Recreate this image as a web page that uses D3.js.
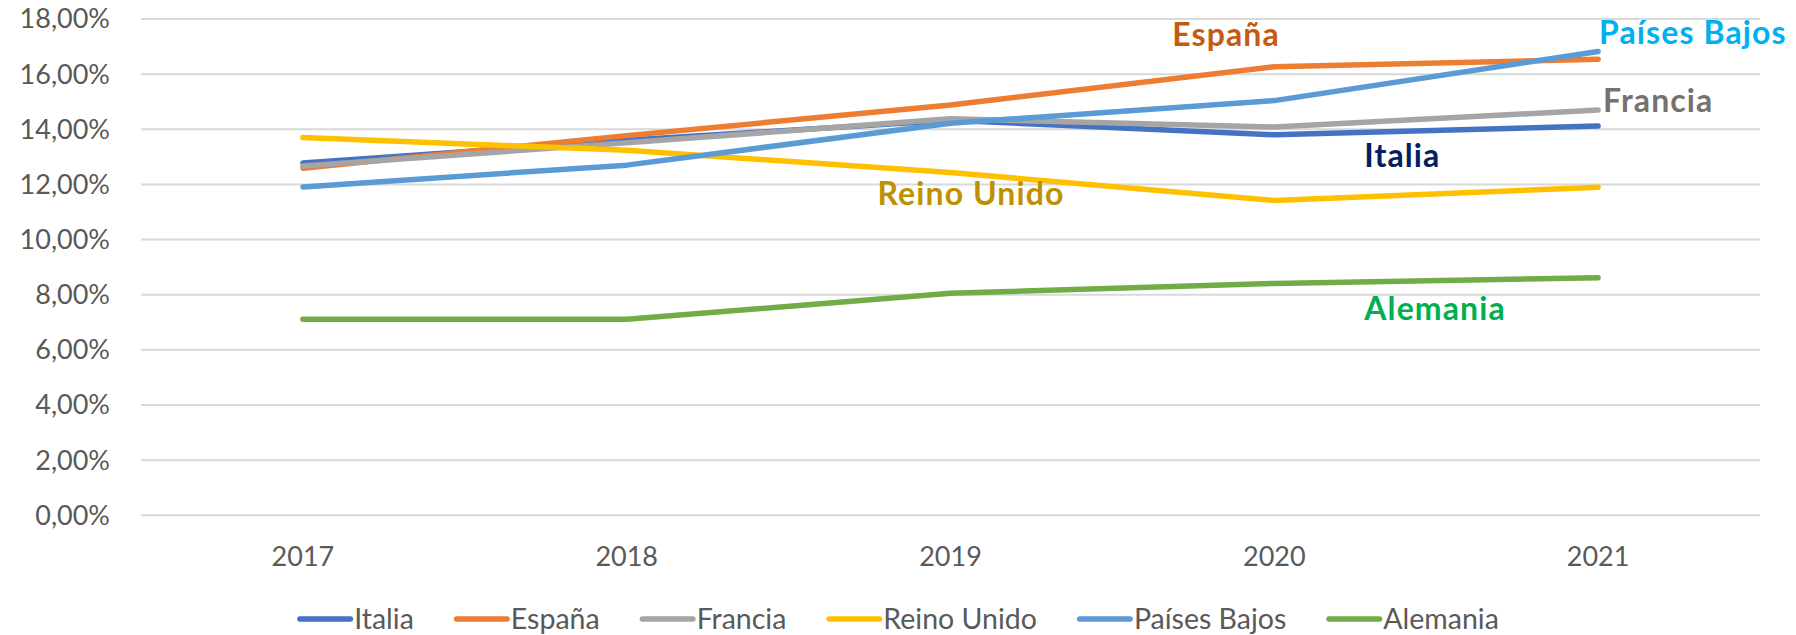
<!DOCTYPE html>
<html><head><meta charset="utf-8">
<script src="https://cdn.jsdelivr.net/npm/d3@7"></script>
<style>html,body{margin:0;padding:0;background:#fff;}svg{display:block;}</style>
</head><body>
<svg id="chart" width="1796" height="635"></svg>
<script>
const years = ["2017","2018","2019","2020","2021"];
const seriesNames = ["Italia","España","Francia","Reino Unido","Países Bajos","Alemania"];
const italia     = [12.78, 13.60, 14.33, 13.80, 14.12];
const espana     = [12.59, 13.77, 14.88, 16.27, 16.54];
const francia    = [12.67, 13.51, 14.38, 14.08, 14.70];
const reinoUnido = [13.70, 13.24, 12.43, 11.42, 11.90];
const paisesBajos= [11.91, 12.70, 14.22, 15.04, 16.82];
const alemania   = [7.11, 7.11, 8.05, 8.41, 8.62];
const yTicks = [0,2,4,6,8,10,12,14,16,18];
const lineColors = ["#4472C4","#ED7D31","#A5A5A5","#FFC000","#5B9BD5","#70AD47"];
// annotation labels: name, anchor year, value (%)
const annNames  = ["España","Países Bajos","Francia","Italia","Reino Unido","Alemania"];
const annYears  = ["2020","2021","2021","2020","2019","2020"];
const annValues = [17.02, 17.11, 14.64, 12.63, 11.25, 7.08];
const annColors = ["#C55A11","#00B0F0","#767171","#002060","#BF9000","#00B050"];
const annDx     = [-102, 1, 5, 90, -73, 90];

const values = [italia, espana, francia, reinoUnido, paisesBajos, alemania];
const svg = d3.select("#chart");
const x = d3.scalePoint().domain(years).range([141, 1760]).padding(0.5);
const y = d3.scaleLinear().domain([0, 18]).range([515.3, 19]);

// gridlines
svg.append("g").selectAll("line").data(yTicks).join("line")
  .attr("x1", 141).attr("x2", 1760)
  .attr("y1", d => y(d)).attr("y2", d => y(d))
  .attr("stroke", "#D9D9D9").attr("stroke-width", 2);

// y axis labels
const fmt = d => d3.format(".2f")(d).replace(".", ",") + "%";
svg.append("g").selectAll("text").data(yTicks).join("text")
  .attr("x", 110).attr("y", d => y(d)).attr("dy", "0.35em")
  .attr("text-anchor", "end")
  .style("font-family", "Lato, sans-serif").style("font-size", "27px").attr("fill", "#595959")
  .text(fmt);

// x axis labels
svg.append("g").selectAll("text").data(years).join("text")
  .attr("x", d => x(d)).attr("y", 566)
  .attr("text-anchor", "middle")
  .style("font-family", "Lato, sans-serif").style("font-size", "27px").attr("fill", "#595959")
  .text(d => d);

// lines
const line = d3.line().x((d, i) => x(years[i])).y(d => y(d));
svg.append("g").selectAll("path").data(values).join("path")
  .attr("d", line)
  .attr("fill", "none")
  .attr("stroke", (d, i) => lineColors[i])
  .attr("stroke-width", 5.5)
  .attr("stroke-linecap", "round")
  .attr("stroke-linejoin", "round");

// annotations
svg.append("g").selectAll("text").data(annNames).join("text")
  .attr("x", (d, i) => x(annYears[i]) + annDx[i])
  .attr("y", (d, i) => y(annValues[i]))
  .style("font-family", "Lato, sans-serif").style("font-size", "32px").style("font-weight", "bold")
  .style("letter-spacing", "1.1px")
  .attr("fill", (d, i) => annColors[i])
  .text(d => d);

// legend
const lg = svg.append("g");
let cx = 0;
seriesNames.forEach((name, i) => {
  const g = lg.append("g").attr("transform", `translate(${cx},0)`);
  g.append("line").attr("x1", 2.7).attr("x2", 53.3).attr("y1", 0).attr("y2", 0)
    .attr("stroke", lineColors[i]).attr("stroke-width", 5.4).attr("stroke-linecap", "round");
  const t = g.append("text").attr("x", 57).attr("y", 0).attr("dy", "0.36em")
    .style("font-family", "Lato, sans-serif").style("font-size", "28.5px").attr("fill", "#595959")
    .text(name);
  const w = t.node().getComputedTextLength();
  cx += 57 + w + 40;
});
const totalW = cx - 40;
lg.attr("transform", `translate(${898 - totalW / 2},619)`);
</script>
</body></html>
